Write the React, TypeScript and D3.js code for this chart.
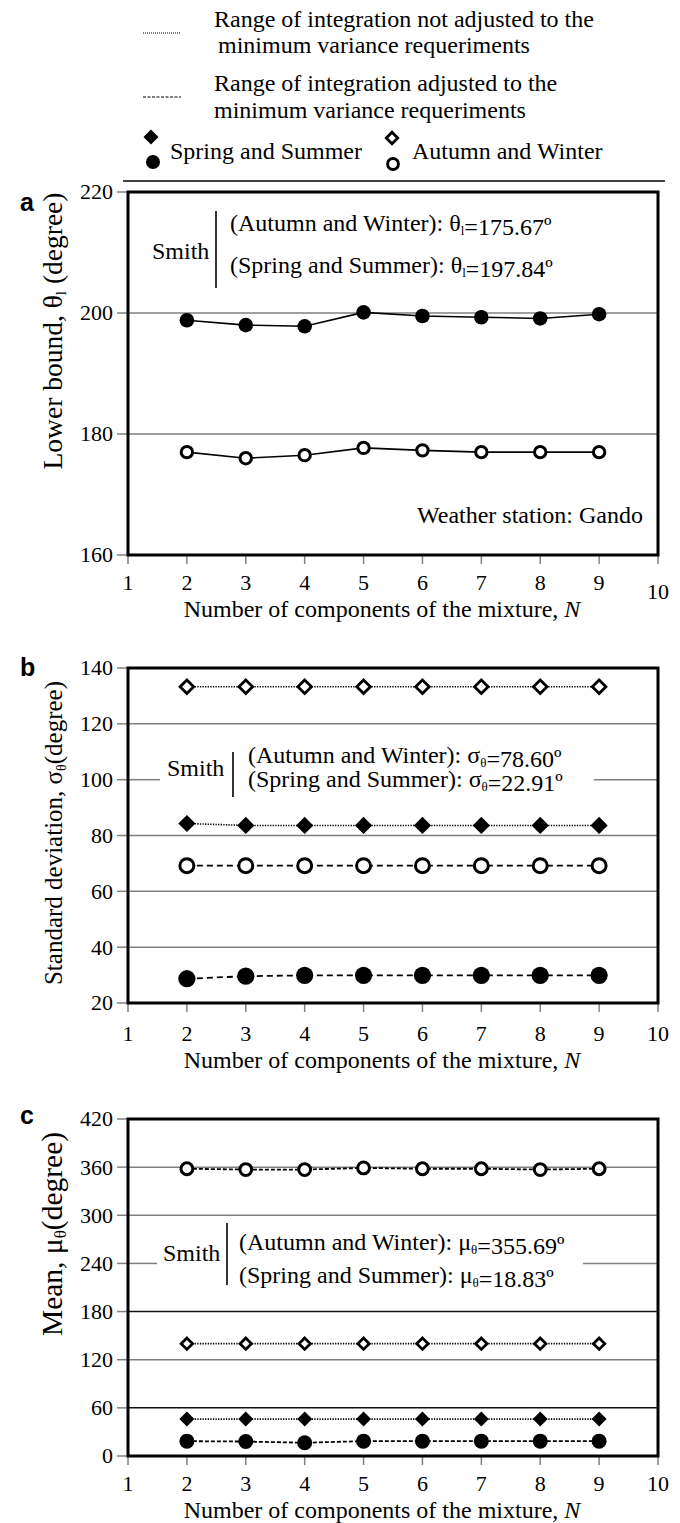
import React from 'react';
import * as d3 from 'd3';

// ---------- data ----------
const N = [2, 3, 4, 5, 6, 7, 8, 9];
const xTickValues = [1, 2, 3, 4, 5, 6, 7, 8, 9, 10];

// panel a: lower bound θl
const lowerSpringSummer = [198.8, 198.0, 197.8, 200.1, 199.5, 199.3, 199.1, 199.8];
const lowerAutumnWinter = [177.0, 176.0, 176.5, 177.7, 177.3, 177.0, 177.0, 177.0];
const ticksA = [160, 180, 200, 220];

// panel b: standard deviation σθ
const sdAutumnNotAdj = [133.3, 133.3, 133.3, 133.3, 133.3, 133.3, 133.3, 133.3];
const sdSpringNotAdj = [84.3, 83.6, 83.6, 83.6, 83.6, 83.6, 83.6, 83.6];
const sdAutumnAdj = [69.2, 69.2, 69.2, 69.2, 69.2, 69.2, 69.2, 69.2];
const sdSpringAdj = [28.7, 29.6, 29.9, 29.9, 29.9, 29.9, 29.9, 29.9];
const ticksB = [20, 40, 60, 80, 100, 120, 140];

// panel c: mean μθ
const meanAutumnAdj = [358, 357, 357, 359, 358, 358, 357, 358];
const meanAutumnNotAdj = [140, 140, 140, 140, 140, 140, 140, 140];
const meanSpringNotAdj = [46, 46, 46, 46, 46, 46, 46, 46];
const meanSpringAdj = [18.5, 18, 16.5, 18.5, 18.5, 18.5, 18.5, 18.5];
const ticksC = [0, 60, 120, 180, 240, 300, 360, 420];

const SERIF = '"Liberation Serif", "Times New Roman", serif';
const SANS = '"Liberation Sans", Arial, sans-serif';

const X0 = 128;
const X1 = 658;
const xScale = d3.scaleLinear().domain([1, 10]).range([X0, X1]);

type Series = {
  values: number[];
  marker: 'circle' | 'diamond';
  filled: boolean;
  line: 'solid' | 'dotted' | 'dashed';
};

function Marker({ kind, filled, cx, cy, size }: { kind: string; filled: boolean; cx: number; cy: number; size: number }) {
  if (kind === 'circle') {
    if (filled) return <circle cx={cx} cy={cy} r={size} fill="#000" />;
    return <circle cx={cx} cy={cy} r={size - 1.6} fill="#fff" stroke="#000" strokeWidth={3} />;
  }
  const s = filled ? size : size - 1.8;
  const d = `M${cx},${cy - s}L${cx + s},${cy}L${cx},${cy + s}L${cx - s},${cy}Z`;
  if (filled) return <path d={d} fill="#000" />;
  return <path d={d} fill="#fff" stroke="#000" strokeWidth={2.8} strokeLinejoin="miter" />;
}

type PanelProps = {
  letter: string;
  letterY: number;
  top: number;
  bottom: number;
  domain: [number, number];
  ticks: number[];
  series: Series[];
  markerSize: number;
  darkGrid?: number[];
  gap?: { value: number; from: number; to: number };
  tickLabelY: number;
  titleY: number;
  yTitle: React.ReactNode;
  yTitleCenter: number;
  yTitleSize: number;
  dashPattern: string;
  lastTickDy?: number;
  children?: React.ReactNode;
};

function Panel(p: PanelProps) {
  const y = d3.scaleLinear().domain(p.domain).range([p.bottom, p.top]);
  const lineGen = d3
    .line<number>()
    .x((_, i) => xScale(N[i]))
    .y((v) => y(v));
  const dash = (l: string) => (l === 'dotted' ? '1.3,1.3' : l === 'dashed' ? p.dashPattern : undefined);
  return (
    <g>
      <text x={20} y={p.letterY} fontFamily={SANS} fontWeight="bold" fontSize={25}>
        {p.letter}
      </text>
      {/* gridlines */}
      {p.ticks
        .filter((t) => t !== p.domain[0] && t !== p.domain[1])
        .map((t) => {
          const col = p.darkGrid && p.darkGrid.includes(t) ? '#111' : '#808080';
          if (p.gap && p.gap.value === t) {
            return (
              <g key={t}>
                <line x1={X0} x2={p.gap.from} y1={y(t)} y2={y(t)} stroke={col} strokeWidth={1.5} />
                <line x1={p.gap.to} x2={X1} y1={y(t)} y2={y(t)} stroke={col} strokeWidth={1.5} />
              </g>
            );
          }
          return <line key={t} x1={X0} x2={X1} y1={y(t)} y2={y(t)} stroke={col} strokeWidth={1.5} />;
        })}
      {/* y ticks */}
      {p.ticks.map((t) => (
        <g key={'yt' + t}>
          <line x1={X0 - 11} x2={X0} y1={y(t)} y2={y(t)} stroke="#808080" strokeWidth={1.5} />
          <text x={113} y={y(t)} dy="0.34em" textAnchor="end" fontFamily={SERIF} fontSize={22}>
            {t}
          </text>
        </g>
      ))}
      {/* x ticks */}
      {xTickValues.map((t) => (
        <g key={'xt' + t}>
          <line x1={xScale(t)} x2={xScale(t)} y1={p.bottom} y2={p.bottom + 9} stroke="#808080" strokeWidth={1.5} />
          <text
            x={xScale(t)}
            y={p.tickLabelY + (t === 10 && p.lastTickDy ? p.lastTickDy : 0)}
            textAnchor="middle"
            fontFamily={SERIF}
            fontSize={22}
          >
            {t}
          </text>
        </g>
      ))}
      {/* frame */}
      <rect x={X0} y={p.top} width={X1 - X0} height={p.bottom - p.top} fill="none" stroke="#000" strokeWidth={3} />
      {p.children}
      {/* series lines */}
      {p.series.map((s, i) => (
        <path
          key={'l' + i}
          d={lineGen(s.values) || ''}
          fill="none"
          stroke="#000"
          strokeWidth={s.line === 'solid' ? 1.6 : s.line === 'dotted' ? 1.6 : 1.8}
          strokeDasharray={dash(s.line)}
        />
      ))}
      {/* markers */}
      {p.series.map((s, i) =>
        s.values.map((v, j) => (
          <Marker key={'m' + i + '-' + j} kind={s.marker} filled={s.filled} cx={xScale(N[j])} cy={y(v)} size={p.markerSize} />
        ))
      )}
      {/* axis titles */}
      <text x={382} y={p.titleY} textAnchor="middle" fontFamily={SERIF} fontSize={24}>
        Number of components of the mixture, <tspan fontStyle="italic">N</tspan>
      </text>
      <text
        transform={`translate(62,${p.yTitleCenter}) rotate(-90)`}
        textAnchor="middle"
        fontFamily={SERIF}
        fontSize={p.yTitleSize}
      >
        {p.yTitle}
      </text>
    </g>
  );
}

function Smith({
  sx,
  sy,
  barX,
  barY1,
  barY2,
  tx,
  l1y,
  l2y,
  sym,
  autumn,
  spring,
}: {
  sx: number;
  sy: number;
  barX: number;
  barY1: number;
  barY2: number;
  tx: number;
  l1y: number;
  l2y: number;
  sym: React.ReactNode;
  autumn: string;
  spring: string;
}) {
  return (
    <g fontFamily={SERIF} fontSize={24}>
      <text x={sx} y={sy}>Smith</text>
      <line x1={barX} x2={barX} y1={barY1} y2={barY2} stroke="#000" strokeWidth={1.6} />
      <text x={tx} y={l1y}>
        (Autumn and Winter): {sym}={autumn}º
      </text>
      <text x={tx} y={l2y}>
        (Spring and Summer): {sym}={spring}º
      </text>
    </g>
  );
}

const thetaL = (
  <tspan>
    θ<tspan fontSize={13} dy={4}>l</tspan>
    <tspan dy={-4}></tspan>
  </tspan>
);
const sigmaTheta = (
  <tspan>
    σ<tspan fontSize={13} dy={4}>θ</tspan>
    <tspan dy={-4}></tspan>
  </tspan>
);
const muTheta = (
  <tspan>
    μ<tspan fontSize={13} dy={4}>θ</tspan>
    <tspan dy={-4}></tspan>
  </tspan>
);

export default function App() {
  return (
    <svg
      width={680}
      height={1523}
      viewBox="0 0 680 1523"
      style={{ position: 'absolute', left: 0, top: 0, display: 'block', background: '#fff' }}
    >
      <rect x={0} y={0} width={680} height={1523} fill="#fff" />
      {/* legend */}
      <g fontFamily={SERIF} fontSize={24}>
        <line x1={143} x2={181} y1={33} y2={33} stroke="#000" strokeWidth={1} strokeDasharray="1,1" />
        <text x={214} y={27}>Range of integration not adjusted to the</text>
        <text x={218} y={53}>minimum variance requeriments</text>
        <line x1={143} x2={181} y1={97} y2={97} stroke="#000" strokeWidth={1} strokeDasharray="3,1.5" />
        <text x={214} y={91}>Range of integration adjusted to the</text>
        <text x={214} y={118}>minimum variance requeriments</text>
        <Marker kind="diamond" filled cx={151} cy={137} size={7.5} />
        <Marker kind="circle" filled cx={153} cy={162} size={7} />
        <text x={170} y={159}>Spring and Summer</text>
        <Marker kind="diamond" filled={false} cx={392} cy={138} size={7.5} />
        <Marker kind="circle" filled={false} cx={393} cy={164} size={7} />
        <text x={412} y={159}>Autumn and Winter</text>
        <line x1={123} x2={665} y1={181} y2={181} stroke="#000" strokeWidth={1.5} />
      </g>

      <Panel
        letter="a"
        letterY={211}
        top={192}
        bottom={555}
        domain={[160, 220]}
        ticks={ticksA}
        markerSize={7.3}
        dashPattern="5,3"
        series={[
          { values: lowerSpringSummer, marker: 'circle', filled: true, line: 'solid' },
          { values: lowerAutumnWinter, marker: 'circle', filled: false, line: 'solid' },
        ]}
        tickLabelY={590}
        lastTickDy={9}
        titleY={617}
        yTitleCenter={331}
        yTitleSize={27.5}
        yTitle={
          <>
            Lower bound, θ<tspan fontSize={15} dy={4}>l</tspan>
            <tspan dy={-4}> (degree)</tspan>
          </>
        }
      >
        <Smith
          sx={152}
          sy={259}
          barX={216}
          barY1={211}
          barY2={288}
          tx={230}
          l1y={231}
          l2y={273}
          sym={thetaL}
          autumn="175.67"
          spring="197.84"
        />
        <text x={643} y={523} textAnchor="end" fontFamily={SERIF} fontSize={24}>
          Weather station: Gando
        </text>
      </Panel>

      <Panel
        letter="b"
        letterY={676}
        top={668}
        bottom={1003}
        domain={[20, 140]}
        ticks={ticksB}
        markerSize={8.6}
        dashPattern="6,4"
        gap={{ value: 100, from: 160, to: 594 }}
        series={[
          { values: sdAutumnNotAdj, marker: 'diamond', filled: false, line: 'dotted' },
          { values: sdSpringNotAdj, marker: 'diamond', filled: true, line: 'dotted' },
          { values: sdAutumnAdj, marker: 'circle', filled: false, line: 'dashed' },
          { values: sdSpringAdj, marker: 'circle', filled: true, line: 'dashed' },
        ]}
        tickLabelY={1041}
        titleY={1068}
        yTitleCenter={833}
        yTitleSize={25}
        yTitle={
          <>
            Standard deviation, σ<tspan fontSize={14} dy={4}>θ</tspan>
            <tspan dy={-4}>(degree)</tspan>
          </>
        }
      >
        <Smith
          sx={167}
          sy={776}
          barX={233}
          barY1={752}
          barY2={797}
          tx={248}
          l1y={763}
          l2y={787}
          sym={sigmaTheta}
          autumn="78.60"
          spring="22.91"
        />
      </Panel>

      <Panel
        letter="c"
        letterY={1124}
        top={1119}
        bottom={1456}
        domain={[0, 420]}
        ticks={ticksC}
        markerSize={7.5}
        darkGrid={[180, 60]}
        dashPattern="4,2"
        gap={{ value: 240, from: 157, to: 583 }}
        series={[
          { values: meanAutumnAdj, marker: 'circle', filled: false, line: 'dashed' },
          { values: meanAutumnNotAdj, marker: 'diamond', filled: false, line: 'dotted' },
          { values: meanSpringNotAdj, marker: 'diamond', filled: true, line: 'dotted' },
          { values: meanSpringAdj, marker: 'circle', filled: true, line: 'dashed' },
        ]}
        tickLabelY={1491}
        titleY={1518}
        yTitleCenter={1234}
        yTitleSize={29.5}
        yTitle={
          <>
            Mean, μ<tspan fontSize={17} dy={4}>θ</tspan>
            <tspan dy={-4}>(degree)</tspan>
          </>
        }
      >
        <Smith
          sx={163}
          sy={1261}
          barX={227}
          barY1={1223}
          barY2={1285}
          tx={239}
          l1y={1250}
          l2y={1283}
          sym={muTheta}
          autumn="355.69"
          spring="18.83"
        />
      </Panel>
    </svg>
  );
}
